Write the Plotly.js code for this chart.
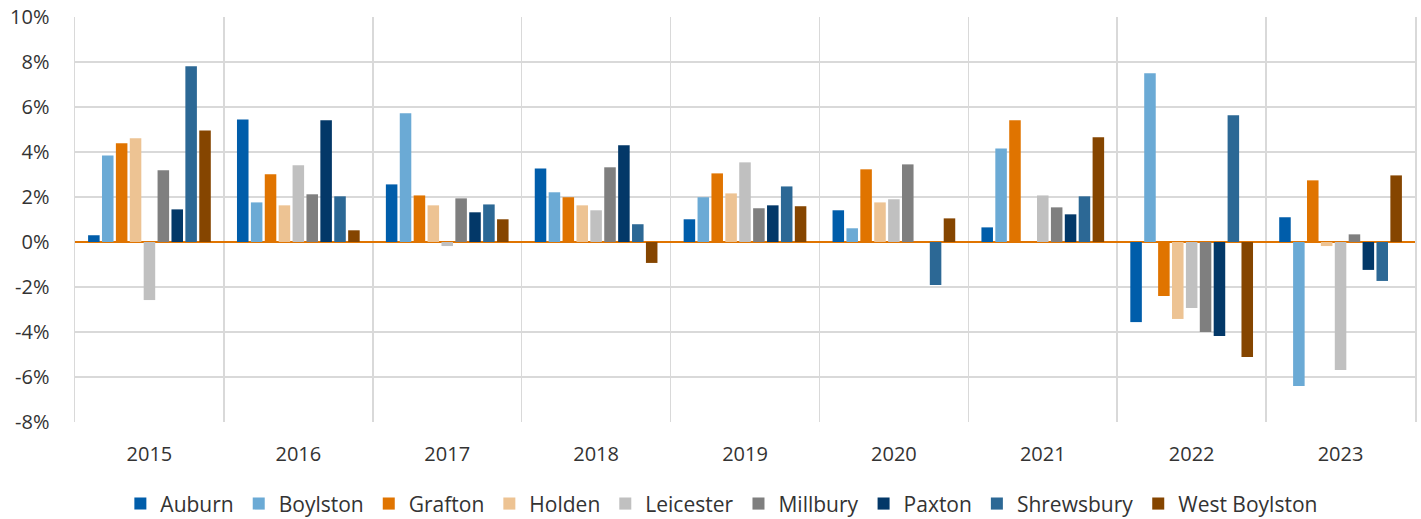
<!DOCTYPE html>
<html>
<head>
<meta charset="utf-8">
<script src="https://cdn.plot.ly/plotly-3.0.1.min.js"></script>
<style>html,body{margin:0;padding:0;background:#fff;}#chart{width:1421px;height:519px;}</style>
</head>
<body>
<div id="chart"></div>
<script>
const years = ["2015","2016","2017","2018","2019","2020","2021","2022","2023"];
const towns = ["Auburn","Boylston","Grafton","Holden","Leicester","Millbury","Paxton","Shrewsbury","West Boylston"];
const auburn       = [0.30, 5.45, 2.56, 3.27, 1.01, 1.41, 0.65, -3.56, 1.10];
const boylston     = [3.85, 1.76, 5.72, 2.21, 1.99, 0.61, 4.16, 7.50, -6.40];
const grafton      = [4.39, 3.01, 2.07, 1.99, 3.05, 3.23, 5.41, -2.40, 2.74];
const holden       = [4.61, 1.63, 1.63, 1.63, 2.16, 1.76, null, -3.42, -0.18];
const leicester    = [-2.58, 3.41, -0.18, 1.41, 3.54, 1.90, 2.07, -2.93, -5.69];
const millbury     = [3.19, 2.12, 1.94, 3.32, 1.50, 3.45, 1.54, -4.00, 0.34];
const paxton       = [1.45, 5.41, 1.32, 4.30, 1.63, null, 1.23, -4.18, -1.24];
const shrewsbury   = [7.81, 2.03, 1.67, 0.79, 2.47, -1.91, 2.03, 5.63, -1.73];
const westBoylston = [4.96, 0.52, 1.01, -0.93, 1.59, 1.05, 4.65, -5.11, 2.96];
const yTickVals = [-8,-6,-4,-2,0,2,4,6,8,10];
const yTickText = ["-8%","-6%","-4%","-2%","0%","2%","4%","6%","8%","10%"];

const series = [auburn, boylston, grafton, holden, leicester, millbury, paxton, shrewsbury, westBoylston];
const colors = ["#005DAA","#6BAAD5","#E07400","#EDC393","#C0C0C0","#7F7F7F","#033868","#2C6895","#854500"];

const traces = series.map((vals, i) => ({
  type: "bar",
  name: towns[i],
  x: years,
  y: vals,
  marker: {color: colors[i], line: {width: 0}},
  hoverinfo: "name+y"
}));

const tickFont = {family: "Open Sans, Noto Sans, sans-serif", size: 20, color: "#333333"};
const legFont = {family: "Open Sans, Noto Sans, sans-serif", size: 21, color: "#333333"};

const layout = {
  width: 1421, height: 519,
  margin: {l: 75, r: 6, t: 17, b: 97},
  paper_bgcolor: "#fff", plot_bgcolor: "#fff",
  font: tickFont,
  barmode: "group",
  bargap: 0.16,
  bargroupgap: 0.17,
  showlegend: true,
  legend: {orientation: "h", xref: "container", yref: "container",
           x: 0.508, xanchor: "center", y: 0.029, yanchor: "middle",
           font: legFont, itemwidth: 30, tracegroupgap: 0, bgcolor: "rgba(0,0,0,0)"},
  xaxis: {
    type: "category",
    tickson: "boundaries",
    showgrid: true, gridcolor: "#D9D9D9", gridwidth: 1.5,
    ticks: "", showline: false, zeroline: false,
    tickfont: tickFont, ticklabelstandoff: 18, automargin: false
  },
  yaxis: {
    range: [-8, 10],
    tickvals: yTickVals, ticktext: yTickText,
    showgrid: true, gridcolor: "#D9D9D9", gridwidth: 1.5,
    zeroline: true, zerolinecolor: "#E07400", zerolinewidth: 2,
    showline: true, mirror: true, linecolor: "#D9D9D9", linewidth: 1.5,
    ticks: "", tickfont: tickFont, ticklabelstandoff: 20, automargin: false
  }
};

Plotly.newPlot("chart", traces, layout, {displayModeBar: false, staticPlot: true});
</script>
</body>
</html>
